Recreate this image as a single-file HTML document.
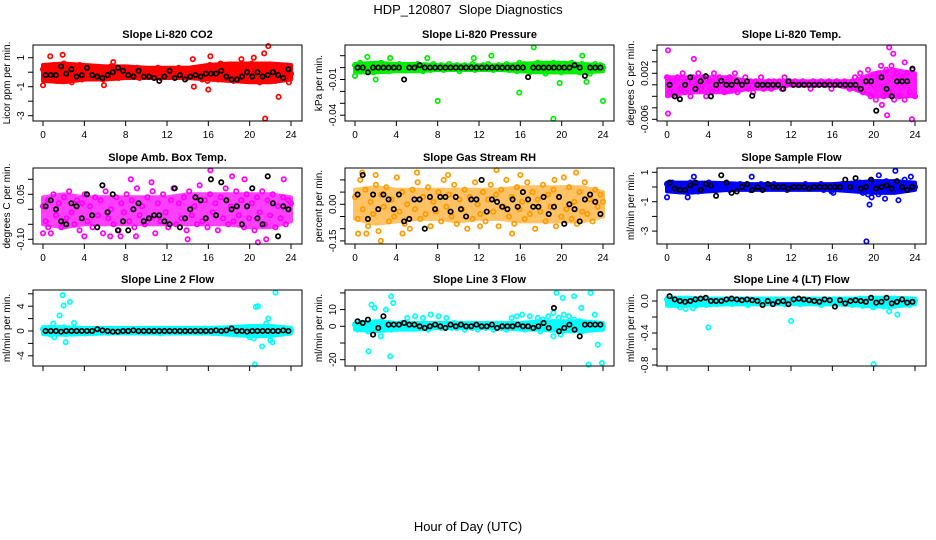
<!DOCTYPE html>
<html><head><meta charset="utf-8"><style>
html,body{margin:0;padding:0;background:#fff}
svg{display:block;font-family:"Liberation Sans",Arial,sans-serif}
</style></head><body>
<svg id="fig" width="936" height="540" viewBox="0 0 936 540">
<text x="468" y="14" text-anchor="middle" font-size="13">HDP_120807&#160; Slope Diagnostics</text>
<text x="468" y="531" text-anchor="middle" font-size="13">Hour of Day (UTC)</text>
</svg>
<script>
// ---- data ----
const hourTicks=[0,4,8,12,16,20,24];
const bandHours=[0,2,4,6,8,10,12,14,16,18,20,22,24];

const co2Cloud=[0.2,-0.5,0.3,-0.3,0.5,-0.6,0.1,-0.4,0.6,-0.2,0.4,-0.7,0.3,-0.1,0.5,-0.5,0.2,-0.3,0.1,-0.4,0.3,-0.2,0.2,-0.5,0.1,-0.3,0.4,-0.2,0.0,-0.4,0.3,-0.1,0.2,-0.3,0.1,-0.2,0.3,-0.4,0.0,-0.2,0.2,-0.3,0.1,-0.1,0.3,-0.4,0.0,-0.2,0.2,-0.3,0.1,-0.1,0.3,-0.2,0.0,-0.4,0.2,-0.1,0.1,-0.3,0.3,-0.5,0.4,-0.6,0.5,-0.3,0.2,-0.5,0.6,-0.4,0.3,-0.2,0.5,-0.6,0.2,-0.3,0.4,-0.5,0.3,-0.4,0.6,-0.2,0.4,-0.7,0.3,-0.5,0.2,-0.4,0.5,-0.6,0.1,-0.3,0.4,-0.2,0.3,-0.1];
const co2Outliers=[[0.7,1.1],[1.9,1.2],[0,-0.9],[14.5,0.9],[14.6,-1.0],[16.2,1.1],[16,-1.2],[19.2,0.9],[20.4,1.0],[21.4,1.3],[21.8,1.8],[22.8,-1.7],[21.5,-3.2],[23.8,-0.7],[5.9,-0.9],[6.8,0.7]];
const co2Means=[-0.2,-0.2,-0.2,0.4,-0.1,0.2,-0.3,-0.2,0.3,-0.2,-0.3,-0.4,-0.2,0.0,0.3,0.1,-0.2,-0.3,0.1,-0.3,-0.3,-0.4,-0.6,-0.3,0.1,-0.4,-0.2,-0.5,-0.3,-0.2,-0.3,-0.1,-0.1,-0.1,0.1,-0.3,-0.5,-0.5,-0.3,0.0,-0.3,0.0,-0.3,-0.2,0.0,-0.2,-0.4,0.2];
const co2BandUp=[0.5,0.6,0.5,0.4,0.4,0.3,0.3,0.3,0.5,0.6,0.6,0.6,0.5];
const co2BandLo=[-0.6,-0.7,-0.5,-0.5,-0.4,-0.4,-0.4,-0.4,-0.5,-0.6,-0.7,-0.7,-0.5];

const presCloud=[0.002,-0.002,0.004,-0.003,0.001,-0.001,0.003,-0.004,0.002,0,0.004,-0.002,0.001,-0.003,0.002,0,-0.001,0.003,-0.002,0.001,0,-0.002,0.002,-0.001,0.003,0,-0.003,0.002,0.001,-0.002,0.003,-0.001,0,0.002,-0.002,0.001,0.003,-0.001,0,0.002,-0.003,0.001,0.002,0,-0.001,0.003,-0.002,0.001,0,0.002,-0.001,0.003,0,-0.002,0.001,0.002,-0.001,0,0.003,-0.002,0.001,0,-0.003,0.004,-0.002,0.003,0,-0.004,0.002,-0.003,0.004,-0.001,0.002,-0.005,0.003,-0.002,0.004,-0.003,0.001,-0.004,0.003,0,-0.002,0.004,-0.003,0.002,-0.004,0.003,-0.001,0.002,-0.005,0.001,0.003,-0.002,0.002,0];
const presOutliers=[[1.2,0.009],[3.4,0.008],[7,0.008],[8,-0.028],[11.5,0.008],[13.2,0.010],[15.9,-0.021],[17.3,0.017],[19.2,-0.043],[22,0.010],[24,-0.028],[2,-0.010],[19.8,-0.013],[22.4,-0.012],[0,-0.007]];
const presMeans=[0,0,-0.004,0,0,0,0,0,0,-0.010,0,0,0.002,0,0,0,0,0,0,0,0,0,0,0,0,0,0,0,0,0,0,0,0,-0.008,0,0,0,0,0,0,0,0,0.002,0,-0.007,0,0,0];
const presBandUp=[0.003,0.004,0.003,0.003,0.002,0.002,0.002,0.002,0.003,0.004,0.004,0.003,0.002];
const presBandLo=[-0.004,-0.004,-0.003,-0.003,-0.002,-0.002,-0.002,-0.002,-0.003,-0.004,-0.004,-0.004,-0.003];

const tempCloud=[0.0013,-0.0013,0.0006,-0.002,0.0013,-0.0007,0.002,-0.0013,0.0006,-0.002,0.0013,0,0.002,-0.0007,0.0013,-0.002,0.0006,-0.0013,0.002,-0.0007,0.0013,0,-0.0013,0.0006,0.0013,-0.0007,0.002,-0.0013,0.0006,0,0.0013,-0.0007,0.0006,-0.0013,0.0006,0,0.0013,-0.0007,0,0.0006,-0.0007,0.0006,0,0.0006,-0.0007,0.0013,0,0.0006,0,0.0006,0,0,0.0006,0,0,-0.0007,0.0006,0,0,0.0006,0,0,0.0006,-0.0007,0,0.0006,0,0,0.0006,0,-0.0007,0.0006,0.0013,-0.0007,0.002,-0.0013,0.0006,0.0026,-0.002,0.0013,-0.0026,0.002,0.0033,-0.002,0.0026,-0.0013,0.0033,-0.0026,0.002,-0.002,0.0013,-0.0026,0.002,-0.0013,0.0026,-0.002];
const tempOutliers=[[0.1,0.006],[0.1,-0.005],[2.6,0.0045],[21.5,0.0065],[21.9,0.0054],[21.3,-0.0053],[23.7,-0.006],[23,0.0039],[20.8,-0.0035]];
const tempMeans=[0,-0.002,-0.0025,0,0.0013,-0.0007,0.0006,0.0015,-0.002,0,0.0007,0,0,0.0006,0,0.0006,-0.0019,0,0,0,0,0,-0.0007,0.0006,0,0,0,0,0,0,0,0,0,0,0,0,0,-0.0007,0.0006,0.0006,-0.0045,0.0013,-0.0007,-0.002,0.0006,0.0006,0.0006,0.0028];
const tempBandUp=[0.0013,0.0013,0.0013,0.0013,0.0006,0.0006,0.0006,0.0006,0.0006,0.0006,0.002,0.0026,0.002];
const tempBandLo=[-0.002,-0.0013,-0.0013,-0.0013,-0.0007,-0.0007,0,0,0,-0.0007,-0.002,-0.002,-0.002];

const boxCloud=[0.01,-0.04,0.03,-0.08,0.05,-0.02,0.02,-0.06,0.04,-0.03,0.06,-0.01,-0.05,0.03,-0.07,0.02,0.05,-0.04,0.01,-0.06,0.04,-0.02,0.03,-0.08,0.06,-0.03,0.00,-0.05,0.04,-0.07,0.02,-0.01,0.05,-0.04,0.03,-0.06,0.07,-0.02,0.01,-0.05,0.04,-0.03,0.06,-0.08,0.02,-0.04,0.05,-0.01,-0.06,0.03,0.07,-0.05,0.02,-0.03,0.04,-0.07,0.06,-0.02,0.01,-0.05,0.08,-0.04,0.03,-0.06,0.05,-0.01,0.02,-0.07,0.04,-0.03,0.07,-0.05,0.01,-0.04,0.06,-0.02,0.03,-0.06,0.05,-0.03,0.02,-0.07,0.04,-0.01,0.06,-0.05,0.03,-0.02,0.05,-0.06,0.01,-0.03,0.04,-0.05,0.03,0.02];
const boxOutliers=[[0,-0.08],[0.5,-0.06],[4,-0.09],[7.5,-0.09],[9,-0.09],[8.5,0.1],[10.5,0.09],[16.2,0.13],[18.3,0.11],[19.5,0.1],[20.8,-0.11],[21.6,-0.1],[23.3,0.1],[14,-0.1],[6.5,-0.09]];
const boxMeans=[0.01,0.03,0.00,-0.04,-0.05,0.02,0.01,-0.03,0.05,-0.02,-0.06,0.08,-0.01,0.05,-0.07,-0.04,-0.07,0.00,0.02,-0.04,-0.03,-0.02,-0.02,-0.04,-0.05,0.07,-0.06,-0.03,0.00,0.04,0.03,-0.03,0.10,-0.02,0.09,0.03,0.00,0.01,-0.05,0.01,0.07,-0.03,-0.05,0.11,0.02,-0.09,0.01,0.00];
const boxBandUp=[0.04,0.05,0.04,0.04,0.04,0.04,0.04,0.05,0.05,0.05,0.05,0.05,0.04];
const boxBandLo=[-0.05,-0.06,-0.05,-0.05,-0.05,-0.05,-0.05,-0.05,-0.05,-0.05,-0.06,-0.06,-0.04];

const rhCloud=[0.03,-0.06,0.10,-0.02,0.06,-0.09,0.01,-0.04,0.08,-0.11,0.04,-0.01,0.07,-0.07,0.02,-0.05,0.11,-0.03,0.05,-0.08,0.00,-0.10,0.06,-0.02,0.09,-0.06,0.03,-0.04,0.07,-0.09,0.01,-0.03,0.05,-0.07,0.10,-0.01,0.04,-0.05,0.08,-0.08,0.02,-0.02,0.06,-0.10,0.03,-0.06,0.09,0.00,-0.04,0.05,-0.07,0.02,0.08,-0.03,0.04,-0.09,0.06,-0.01,0.10,-0.05,0.03,-0.08,0.07,-0.02,0.01,-0.06,0.09,-0.04,0.05,-0.10,0.02,-0.03,0.08,-0.07,0.04,-0.01,0.06,-0.09,0.03,-0.05,0.11,-0.02,0.07,-0.06,0.01,-0.08,0.05,-0.03,0.09,-0.04,0.02,-0.07,0.06,-0.01,0.04,0.01];
const rhOutliers=[[0.3,-0.12],[1.1,-0.12],[0.7,0.13],[2,0.12],[2.5,-0.15],[4.6,-0.12],[6,0.13],[9,0.12],[13.7,0.14],[15.2,-0.12],[16,0.12],[21.4,0.13],[7.3,-0.09],[12.1,-0.09],[19.3,0.1]];
const rhMeans=[0.04,0.12,-0.06,0.04,-0.02,0.04,0.02,-0.02,0.04,-0.07,-0.06,0.02,0.02,-0.10,0.03,-0.02,0.03,0.03,-0.03,0.03,-0.02,-0.05,0.02,0.02,0.10,-0.03,0.02,0.01,-0.01,-0.02,0.02,-0.01,0.05,0.02,-0.01,-0.01,0.03,-0.04,-0.01,0.03,-0.08,0.00,-0.02,-0.07,0.02,0.04,0.01,-0.04];
const rhBandUp=[0.06,0.07,0.06,0.06,0.06,0.06,0.06,0.06,0.07,0.07,0.07,0.07,0.05];
const rhBandLo=[-0.06,-0.08,-0.07,-0.06,-0.06,-0.07,-0.06,-0.06,-0.07,-0.07,-0.07,-0.07,-0.05];

const flowCloud=[0.2,-0.2,0.3,-0.1,0.1,-0.3,0.2,0,-0.2,0.3,-0.1,0.2,-0.3,0.1,0,-0.2,0.3,-0.1,0.2,-0.2,0.1,0,-0.1,0.2,-0.2,0.1,0,-0.1,0.2,-0.1,0.1,0,-0.2,0.1,0,-0.1,0.2,-0.1,0,0.1,-0.1,0.2,0,-0.1,0.1,0,-0.2,0.1,0,-0.1,0.1,0,-0.1,0.2,0,-0.1,0.1,-0.1,0,0.2,-0.2,0.1,0,-0.3,0.1,0,-0.1,0.2,-0.1,0,0.1,-0.2,0.2,-0.1,0.3,-0.4,0.2,-0.5,0.4,-0.3,0.3,-0.5,0.2,-0.2,0.4,-0.3,0.1,-0.2,0.3,-0.1,0.2,-0.2,0.1,-0.1,0.2,0];
const flowOutliers=[[0,-0.7],[2,-0.7],[2.6,0.7],[8.2,0.7],[16.1,-0.4],[20.5,0.8],[19.8,-0.7],[19.6,-1.2],[22.1,1.1],[22.4,-0.9],[23.6,0.7],[19.3,-3.7],[21.1,-0.8],[23,0.5]];
const flowMeans=[0.3,-0.1,-0.2,-0.2,0.1,0.3,-0.2,0.2,0.1,-0.6,0.8,0.3,-0.4,-0.3,0.0,0.2,-0.2,0.0,-0.2,0.2,0.0,0.0,0.0,-0.1,0.0,0.0,0.0,-0.1,0.0,0.0,0.0,0.0,0.0,0.0,0.5,0.0,0.6,-0.1,0.0,0.5,-0.1,0.0,0.1,-0.1,0.4,0.0,-0.2,0.0];
const flowBandUp=[0.3,0.3,0.3,0.25,0.2,0.2,0.2,0.2,0.2,0.3,0.4,0.4,0.3];
const flowBandLo=[-0.3,-0.4,-0.3,-0.2,-0.2,-0.2,-0.2,-0.2,-0.2,-0.3,-0.4,-0.4,-0.2];

const line2Cloud=[0.3,-0.4,0.5,-0.6,0.2,-0.3,0.4,-0.2,0.6,-0.5,0.3,-0.1,0.2,-0.3,0.4,-0.2,0.1,-0.3,0.3,-0.2,0.2,-0.1,0.3,-0.2,0.1,-0.3,0.2,-0.1,0.3,-0.2,0.1,-0.2,0.2,-0.1,0.3,-0.2,0.1,-0.1,0.2,-0.3,0.1,-0.2,0.3,-0.1,0.2,-0.4,0.1,-0.2,0.3,-0.1,0.2,-0.2,0.1,-0.3,0.2,-0.1,0.3,-0.2,0.1,-0.1,0.2,-0.3,0.4,-0.2,0.1,-0.3,0.2,-0.1,0.3,-0.2,0.2,-0.4,0.3,-0.1,0.5,-0.3,0.2,-0.2,0.3,-0.5,0.6,-0.4,0.3,-0.6,0.5,-0.3,0.4,-0.2,0.3,-0.5,0.2,-0.3,0.4,-0.2,0.3,0.1];
const line2Outliers=[[1,1.2],[1.1,-1],[1.6,2.5],[1.9,5.8],[2,4.1],[2.2,-1.8],[2.6,4.7],[3,1.3],[20.4,-1.2],[20.5,-5.4],[20.6,3.9],[20.8,4],[21.2,-2.5],[21.8,2],[22,-1.5],[22.2,-1.8],[22.5,6.2],[21.6,1.2],[20,-1],[4.1,-0.4]];
const line2Means=[0,0,0,-0.1,0,0,0,0,0,0,0.3,0.1,0,-0.1,-0.1,0,0,0.1,0,0,0,0,0,0,0,0,0,0,0,0,0,0,0,0.1,0,0.1,0.4,0,0,-0.1,0,0,0,0,0,0,0.1,0];
const line2BandUp=[0.6,0.6,0.5,0.5,0.5,0.5,0.5,0.5,0.5,0.6,0.8,0.8,0.5];
const line2BandLo=[-0.5,-0.6,-0.5,-0.4,-0.4,-0.4,-0.4,-0.4,-0.4,-0.6,-0.8,-0.8,-0.4];

const line3Cloud=[1,-2,2,-1,0,-3,2,-1,1,-2,3,0,-1,2,-2,1,0,-1,2,-1,5,-1,1,6,0,-1,5,1,-2,7,0,1,6,-1,1,5,0,-1,2,-1,1,0,-2,1,0,-1,1,-2,0,1,-1,0,1,-2,0,1,-1,0,-2,1,5,-1,6,0,7,-2,1,6,-1,2,5,-3,4,-1,6,-2,8,0,5,-3,7,1,6,-2,4,-1,3,-3,2,-1,1,-2,0,1,-1,0];
const line3Outliers=[[1.3,-15],[1.6,13],[1.9,11],[2.5,-6],[3,10],[3.4,-18],[3.5,18],[3.7,14],[19.5,20],[19.9,-5],[20.1,17],[21.2,18],[21.9,11],[22.6,-23],[22.8,20],[23.5,-11],[23.9,-22],[23.2,7],[19.2,-6]];
const line3Means=[3,2,4,-5,-1,6,1,1,1,2,1,1,0,-1,0,1,0,-1,1,0,1,0,0,1,0,0,1,-1,0,0,0,1,0,0,-1,0,2,-1,11,-3,-1,1,-2,-6,1,1,1,1];
const line3BandUp=[2,3,2,2,2,2,2,2,2,3,3,3,2];
const line3BandLo=[-2,-3,-2,-2,-1,-1,-1,-1,-2,-2,-3,-3,-2];

const line4Cloud=[0.02,-0.03,0.03,-0.05,0.01,-0.08,0.02,-0.04,0.03,-0.02,0.01,-0.06,0.02,-0.03,0.01,-0.05,0.02,-0.02,0.01,-0.04,0.02,-0.03,0.01,-0.02,0.02,-0.04,0.01,-0.02,0.02,-0.03,0.01,-0.05,0.02,-0.02,0.01,-0.03,0.02,-0.04,0.01,-0.02,0.02,-0.03,0.01,-0.02,0.02,-0.04,0.01,-0.03,0.02,-0.02,0.01,-0.04,0.02,-0.03,0.01,-0.02,0.02,-0.03,0.01,-0.05,0.02,-0.02,0.01,-0.03,0.02,-0.04,0.01,-0.02,0.02,-0.03,0.01,-0.05,0.02,-0.03,0.03,-0.06,0.02,-0.04,0.01,-0.08,0.03,-0.05,0.02,-0.07,0.01,-0.03,0.03,-0.06,0.02,-0.04,0.01,-0.03,0.02,-0.05,0.01,0];
const line4Outliers=[[4,-0.33],[12,-0.25],[20,-0.79],[2.5,-0.09],[22.3,-0.17],[21.5,-0.13],[1.8,-0.1]];
const line4Means=[0.06,0.02,0,-0.01,0,0.02,0.03,0.04,0,0,0,0.02,0.03,0.02,0.01,0.02,0.01,0,-0.05,0,-0.04,-0.01,0,-0.04,0.02,0.03,0.02,0.01,0,-0.01,0.02,0.01,-0.07,0.01,-0.03,0,0.01,0,-0.01,0.04,-0.02,-0.01,0.04,-0.03,-0.01,0.02,-0.02,-0.01];
const line4BandUp=[0.04,0.04,0.03,0.03,0.03,0.03,0.03,0.03,0.03,0.03,0.04,0.04,0.03];
const line4BandLo=[-0.06,-0.06,-0.05,-0.04,-0.04,-0.04,-0.04,-0.04,-0.04,-0.05,-0.07,-0.07,-0.04];

const co2Ticks=[1,0,-1,-2,-3], co2Labels=["1","","-1","","-3"];
const presTicks=[0.01,0,-0.01,-0.02,-0.03,-0.04], presLabels=["","","-0.01","","","-0.04"];
const tempTicks=[0.006,0.004,0.002,0,-0.002,-0.004,-0.006], tempLabels=["","","0.002","","","","-0.006"];
const boxTicks=[0.1,0.05,0,-0.05,-0.1], boxLabels=["","0.05","","","-0.10"];
const rhTicks=[0.1,0.05,0,-0.05,-0.1,-0.15], rhLabels=["","","0.00","","","-0.15"];
const flowTicks=[1,0,-1,-2,-3], flowLabels=["1","","-1","","-3"];
const line2Ticks=[6,4,2,0,-2,-4], line2Labels=["","4","","0","","-4"];
const line3Ticks=[20,10,0,-10,-20], line3Labels=["","10","0","","-20"];
const line4Ticks=[0,-0.2,-0.4,-0.6,-0.8], line4Labels=["0.0","","-0.4","","-0.8"];

// ---- layout ----
const panels=[
 {key:"co2",title:"Slope Li-820 CO2",ylab:"Licor ppm per min.",col:"#ff0000",bandOp:1,l:33,t:45,r:302,b:121,refV:1,refP:57.7,ppu:14.5,cloud:co2Cloud,out:co2Outliers,means:co2Means,up:co2BandUp,lo:co2BandLo,ticks:co2Ticks,labels:co2Labels,xl:true},
 {key:"pressure",title:"Slope Li-820 Pressure",ylab:"kPa per min.",col:"#00ee00",bandOp:1,l:345,t:45,r:614,b:121,refV:0,refP:67.6,ppu:1190,cloud:presCloud,out:presOutliers,means:presMeans,up:presBandUp,lo:presBandLo,ticks:presTicks,labels:presLabels,xl:true},
 {key:"temp",title:"Slope Li-820 Temp.",ylab:"degrees C per min.",col:"#ff00ff",bandOp:0.9,l:657,t:45,r:926,b:121,refV:0.002,refP:73.3,ppu:5750,cloud:tempCloud,out:tempOutliers,means:tempMeans,up:tempBandUp,lo:tempBandLo,ticks:tempTicks,labels:tempLabels,xl:true},
 {key:"ambbox",title:"Slope Amb. Box Temp.",ylab:"degrees C per min.",col:"#ff00ff",bandOp:0.75,l:33,t:168,r:302,b:244,refV:0,refP:209.3,ppu:300,cloud:boxCloud,out:boxOutliers,means:boxMeans,up:boxBandUp,lo:boxBandLo,ticks:boxTicks,labels:boxLabels,xl:true},
 {key:"rh",title:"Slope Gas Stream RH",ylab:"percent per min.",col:"#ff9a00",bandOp:0.6,l:345,t:168,r:614,b:244,refV:0,refP:204.3,ppu:244,cloud:rhCloud,out:rhOutliers,means:rhMeans,up:rhBandUp,lo:rhBandLo,ticks:rhTicks,labels:rhLabels,xl:true},
 {key:"sampleflow",title:"Slope Sample Flow",ylab:"ml/min per min.",col:"#0000ff",bandOp:1,l:657,t:168,r:926,b:244,refV:1,refP:172.3,ppu:14.7,cloud:flowCloud,out:flowOutliers,means:flowMeans,up:flowBandUp,lo:flowBandLo,ticks:flowTicks,labels:flowLabels,xl:true},
 {key:"line2",title:"Slope Line 2 Flow",ylab:"ml/min per min.",col:"#00ffff",bandOp:1,l:33,t:290,r:302,b:366,refV:0,refP:331,ppu:6.2,cloud:line2Cloud,out:line2Outliers,means:line2Means,up:line2BandUp,lo:line2BandLo,ticks:line2Ticks,labels:line2Labels,xl:false},
 {key:"line3",title:"Slope Line 3 Flow",ylab:"ml/min per min.",col:"#00ffff",bandOp:1,l:345,t:290,r:614,b:366,refV:0,refP:326.3,ppu:1.67,cloud:line3Cloud,out:line3Outliers,means:line3Means,up:line3BandUp,lo:line3BandLo,ticks:line3Ticks,labels:line3Labels,xl:false},
 {key:"line4",title:"Slope Line 4 (LT) Flow",ylab:"ml/min per min.",col:"#00ffff",bandOp:1,l:657,t:290,r:926,b:366,refV:0,refP:301,ppu:80,cloud:line4Cloud,out:line4Outliers,means:line4Means,up:line4BandUp,lo:line4BandLo,ticks:line4Ticks,labels:line4Labels,xl:false}
];
const NS="http://www.w3.org/2000/svg";
const svg=document.getElementById("fig");
function mk(tag,attrs,parent){const e=document.createElementNS(NS,tag);for(const k in attrs)e.setAttribute(k,attrs[k]);parent.appendChild(e);return e;}

panels.forEach(p=>{
  const g=mk("g",{},svg);
  
  
  const x0=p.l+10, x24=p.l+258;
  const xs=h=>x0+(x24-x0)*h/24;
  const ys=v=>p.refP-(v-p.refV)*p.ppu;
  const cx=(p.l+p.r)/2;
  const tt=mk("text",{x:cx,y:p.t-7,"text-anchor":"middle","font-size":"11","font-weight":"bold"},g);
  tt.textContent=p.title;
  
  
  const yl=mk("text",{x:0,y:0,"text-anchor":"middle","font-size":"10",transform:`translate(${p.l-23},${(p.t+p.b)/2}) rotate(-90)`},g);
  yl.textContent=p.ylab;
  
  
  // dense cloud envelope
  let d="";
  bandHours.forEach((h,i)=>{d+=(i?"L":"M")+xs(h).toFixed(1)+","+ys(p.up[i]).toFixed(1);});
  for(let i=bandHours.length-1;i>=0;i--){d+="L"+xs(bandHours[i]).toFixed(1)+","+ys(p.lo[i]).toFixed(1);}
  d+="Z";
  const band=mk("path",{d:d,fill:p.col,stroke:p.col,"stroke-width":"4","stroke-linejoin":"round","opacity":p.bandOp},g);
  
  
  // points
  const pts=mk("g",{fill:"none","stroke-width":"1.7"},g);
  
  
  const n=p.cloud.length;
  p.cloud.forEach((v,i)=>{
    const c=mk("circle",{cx:xs(i*24/(n-1)),cy:ys(v),r:2.2,stroke:p.col},pts);
    
    
  });
  p.out.forEach(o=>{
    const c=mk("circle",{cx:xs(o[0]),cy:ys(o[1]),r:2.2,stroke:p.col},pts);
    
    
  });
  const m=p.means.length;
  p.means.forEach((v,i)=>{
    const c=mk("circle",{cx:xs((i+0.5)*24/m),cy:ys(v),r:2.2,stroke:"#000"},pts);
    
    
  });
  // box
  const bx=mk("rect",{x:p.l,y:p.t,width:p.r-p.l,height:p.b-p.t,fill:"none",stroke:"#000","stroke-width":"1"},g);
  
  
  // y axis
  const ya=mk("g",{stroke:"#000"},g);
  
  
  p.ticks.forEach((v,i)=>{
    const y=ys(v);
    mk("line",{x1:p.l-5,x2:p.l,y1:y,y2:y},ya);
    if(p.labels[i]){
      const t=mk("text",{x:0,y:0,"text-anchor":"middle","font-size":"10",stroke:"none",transform:`translate(${p.l-9},${y}) rotate(-90)`},ya);
      t.textContent=p.labels[i];
      
      
    }
  });
  // x axis
  const xa=mk("g",{stroke:"#000"},g);
  
  
  hourTicks.forEach(h=>{
    const x=xs(h);
    mk("line",{x1:x,x2:x,y1:p.b,y2:p.b+5},xa);
    if(p.xl){
      const t=mk("text",{x:x,y:p.b+17,"text-anchor":"middle","font-size":"10",stroke:"none"},xa);
      t.textContent=String(h);
      
      
    }
  });
});
</script>
</body></html>
